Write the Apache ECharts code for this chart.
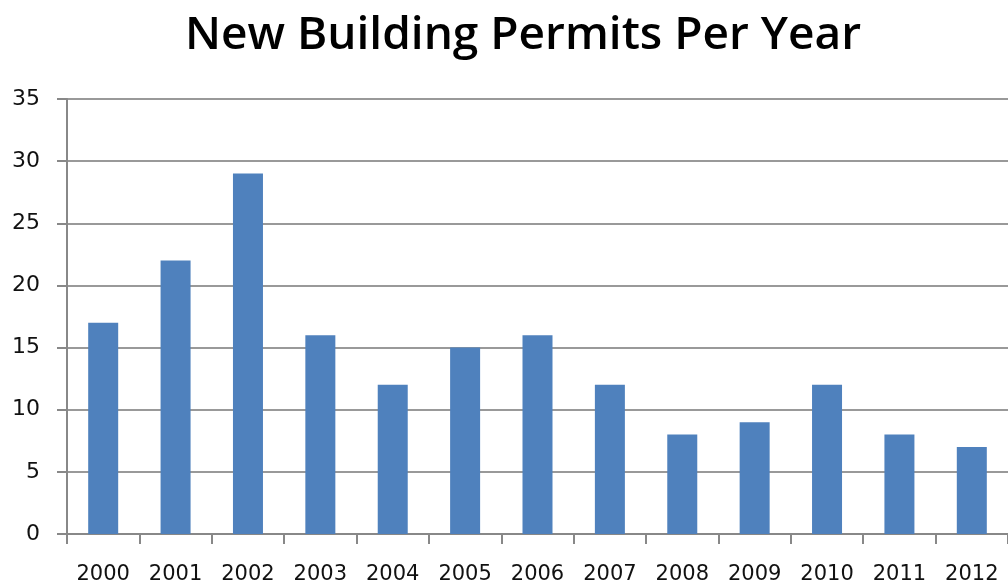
<!DOCTYPE html>
<html>
<head>
<meta charset="utf-8">
<script src="https://cdn.jsdelivr.net/npm/echarts@6/dist/echarts.min.js"></script>
<style>
  html, body { margin: 0; padding: 0; background: #fff; }
  #chart { width: 1008px; height: 588px; }
</style>
</head>
<body>
<div id="chart"></div>
<script>
const years = ["2000", "2001", "2002", "2003", "2004", "2005", "2006", "2007", "2008", "2009", "2010", "2011", "2012"];
const permits = [17, 22, 29, 16, 12, 15, 16, 12, 8, 9, 12, 8, 7];

const chart = echarts.init(document.getElementById("chart"));
chart.setOption({
  animation: false,
  title: {
    text: "New Building Permits Per Year",
    left: 180,
    top: 8,
    textStyle: { fontFamily: "Open Sans", fontWeight: 600, fontSize: 46, color: "#000" },
  },
  grid: { left: 67, right: -7, top: 99, bottom: 54 },
  xAxis: {
    type: "category",
    data: years,
    axisLine: { lineStyle: { color: "#888", width: 2 } },
    axisTick: { show: true, length: 10, lineStyle: { color: "#888", width: 2 } },
    axisLabel: { interval: 0, margin: 30, fontFamily: "DejaVu Sans", fontSize: 21, color: "#111" },
  },
  yAxis: {
    type: "value",
    min: 0,
    max: 35,
    interval: 5,
    axisLine: { show: true, lineStyle: { color: "#888", width: 2 } },
    axisTick: { show: true, length: 10, lineStyle: { color: "#888", width: 2 } },
    axisLabel: { margin: 27, fontFamily: "DejaVu Sans", fontSize: 22, color: "#111" },
    splitLine: { lineStyle: { color: "#999", width: 2 } },
  },
  series: [
    {
      type: "bar",
      data: permits,
      barWidth: 30,
      itemStyle: { color: "#4f81bd" },
    },
  ],
});
</script>
</body>
</html>
